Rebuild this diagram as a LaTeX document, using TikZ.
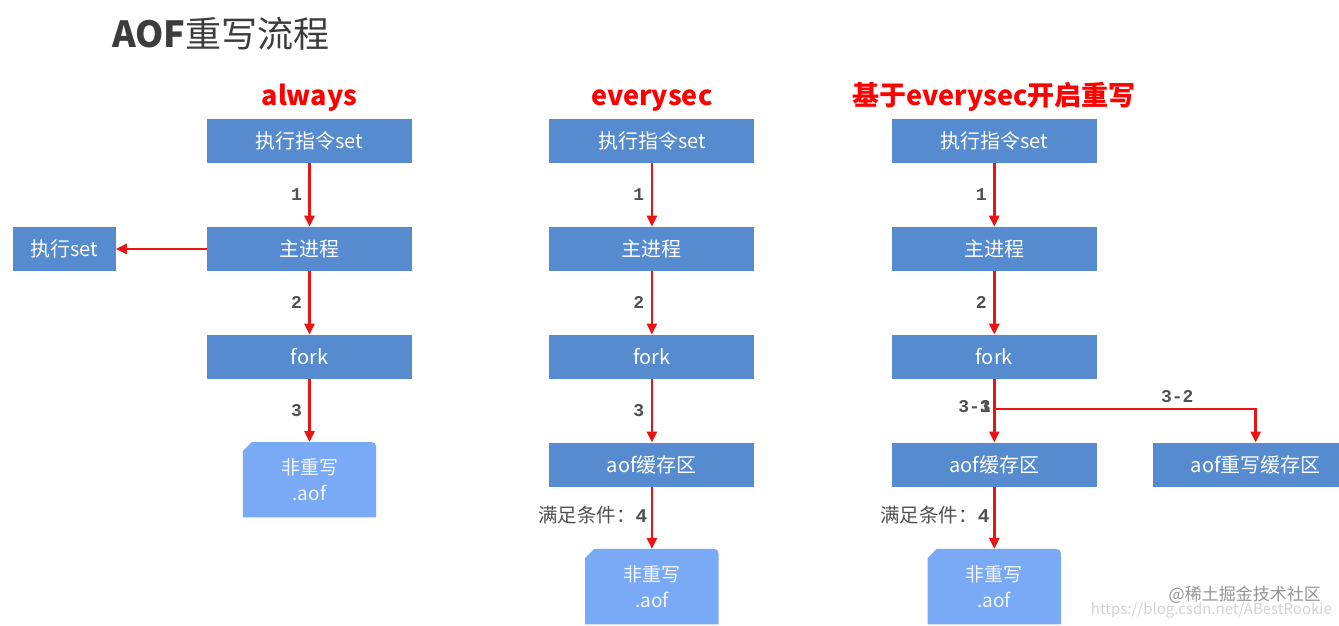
\documentclass[tikz,border=0pt]{standalone}
\usepackage{fontspec}
\setmainfont{Noto Sans CJK SC}
\newfontfamily\monofont{Liberation Mono}
\usetikzlibrary{arrows.meta,positioning,backgrounds}
\definecolor{boxblue}{RGB}{86,139,207}
\definecolor{fileblue}{RGB}{122,170,245}
\definecolor{numgray}{RGB}{80,80,80}
\definecolor{titlegray}{RGB}{60,60,60}
\definecolor{arrowred}{RGB}{235,20,20}

\begin{document}
\begin{tikzpicture}[
    x=1pt, y=-1pt,
    node distance=63.5pt,
    stepbox/.style={rectangle, fill=boxblue, text=white, minimum width=205pt, minimum height=44pt, inner sep=0pt, font=\fontsize{20}{20}\selectfont},
    filebox/.style={minimum width=133pt, minimum height=75pt, inner sep=0pt, align=center, text=white!90!fileblue, font=\fontsize{19}{26}\selectfont},
    arrow/.style={-{Triangle[length=11pt,width=10pt]}, arrowred, line width=2.6pt},
    num/.style={font=\monofont\bfseries\fontsize{18}{18}\selectfont, text=numgray},
    cond/.style={font=\fontsize{19.5}{19.5}\selectfont, text=numgray},
    head/.style={inner sep=0pt, font=\bfseries\fontsize{27}{27}\selectfont, text=red}
]
    \useasboundingbox (0,0) rectangle (1339,626);
    \node[anchor=west, inner sep=0pt, text=titlegray, font=\fontsize{36}{36}\selectfont] (title) at (112,34) {\textbf{AOF}重写流程};

    % always
    \node[stepbox] (cmd1) at (309.5,141) {执行指令set};
    \node[stepbox, below=of cmd1] (main1) {主进程};
    \node[stepbox, below=of main1] (fork1) {fork};
    \node[filebox, below=63pt of fork1] (file1) {非重写\\.aof};
    \node[stepbox, minimum width=103pt, left=91pt of main1] (exec1) {执行set};
    \node[head, above=7pt of cmd1] (head1) {always};

    % everysec
    \node[stepbox, right=137pt of cmd1] (cmd2) {执行指令set};
    \node[stepbox, below=of cmd2] (main2) {主进程};
    \node[stepbox, below=of main2] (fork2) {fork};
    \node[stepbox, below=of fork2] (buf2) {aof缓存区};
    \node[filebox, below=62pt of buf2] (file2) {非重写\\.aof};
    \node[head, above=7pt of cmd2] (head2) {everysec};

    % everysec + rewrite
    \node[stepbox, right=137pt of cmd2] (cmd3) {执行指令set};
    \node[stepbox, below=of cmd3] (main3) {主进程};
    \node[stepbox, below=of main3] (fork3) {fork};
    \node[stepbox, below=of fork3] (buf3) {aof缓存区};
    \node[stepbox, right=56pt of buf3] (rbuf3) {aof重写缓存区};
    \node[filebox, below=62pt of buf3] (file3) {非重写\\.aof};
    \node[head, above=7pt of cmd3] (head3) {基于everysec开启重写};

    % file outlines
    \begin{scope}[on background layer]
        \foreach \f in {file1,file2,file3}
            \fill[fileblue] (\f.south west) -- ([yshift=-9pt]\f.north west) -- ([xshift=9pt]\f.north west)
                -- ([xshift=-10pt]\f.north east) .. controls (\f.north east) .. ([yshift=-10pt]\f.north east)
                -- (\f.south east) -- cycle;
    \end{scope}

    \draw[arrow] (cmd1) -- node[num, left=3pt] {1} (main1);
    \draw[arrow] (main1) -- (exec1);
    \draw[arrow] (main1) -- node[num, left=3pt] {2} (fork1);
    \draw[arrow] (fork1) -- node[num, left=3pt] {3} (file1);

    \draw[arrow] (cmd2) -- node[num, left=3pt] {1} (main2);
    \draw[arrow] (main2) -- node[num, left=3pt] {2} (fork2);
    \draw[arrow] (fork2) -- node[num, left=3pt] {3} (buf2);
    \draw[arrow] (buf2) -- node[cond, left=0pt, pos=0.45] {满足条件：{\monofont\bfseries 4}} (file2);

    \draw[arrow] (cmd3) -- node[num, left=3pt] {1} (main3);
    \draw[arrow] (main3) -- node[num, left=3pt] {2} (fork3);
    \coordinate[below=30pt of fork3.south] (split3);
    \draw[arrowred, line width=2.6pt] (fork3) -- (split3);
    \node[num, left=0pt, yshift=2pt] (lab31) at (split3) {3-1};
    \node[num, left=0pt, yshift=2pt] (lab3) at (split3) {3};
    \draw[arrow] (split3) -- (buf3);
    \draw[arrow] (split3) -| node[num, above=2pt, pos=0.35] {3-2} (rbuf3);
    \draw[arrow] (buf3) -- node[cond, left=0pt, pos=0.45] {满足条件：{\monofont\bfseries 4}} (file3);

    % watermark
    \node[anchor=east, inner sep=0pt, text=gray!35, font=\fontsize{15}{15}\selectfont] (url) at (1332,610) {https://blog.csdn.net/ABestRookie};
    \node[anchor=east, inner sep=0pt, text=gray!85, font=\fontsize{17}{17}\selectfont] (mark) at (1321,595) {@稀土掘金技术社区};
\end{tikzpicture}
\end{document}
